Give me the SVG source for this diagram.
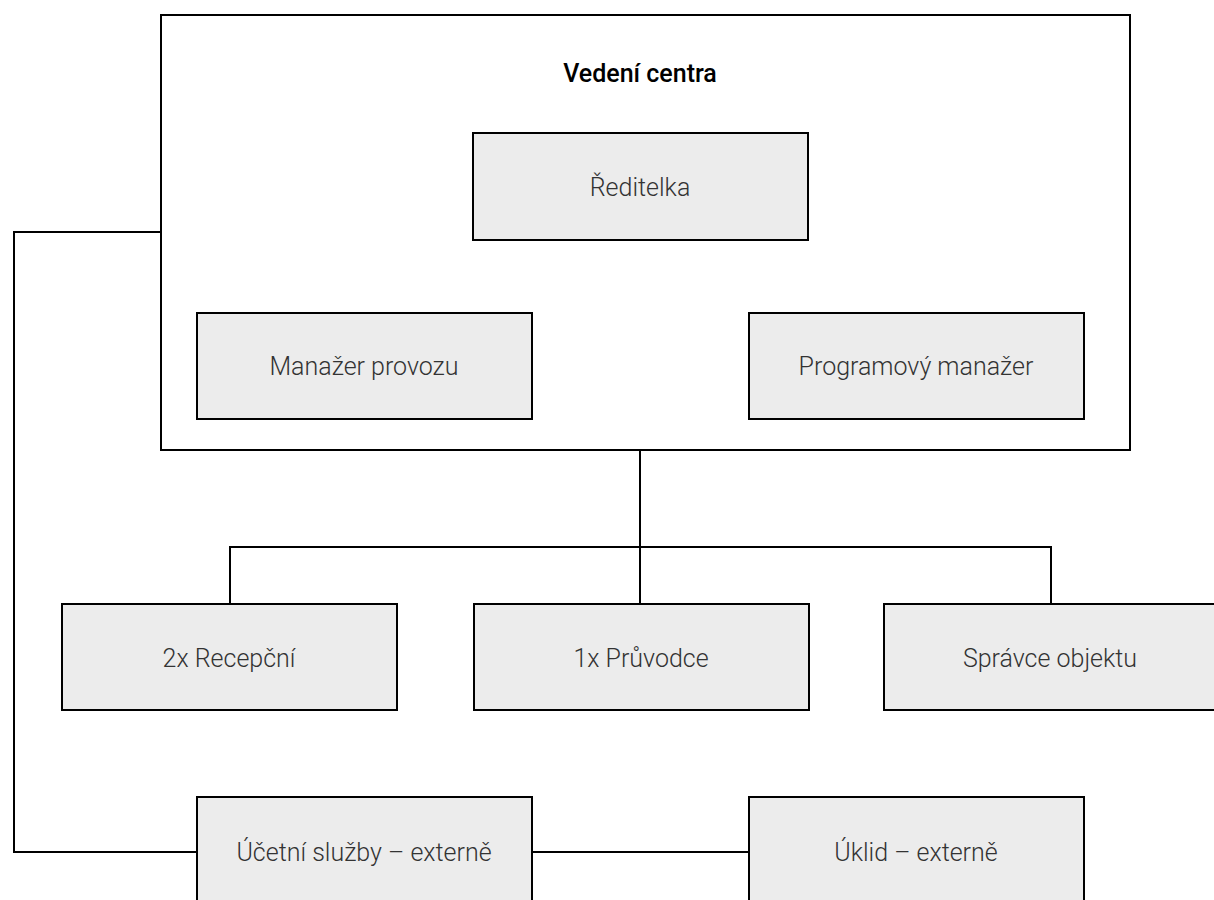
<svg xmlns="http://www.w3.org/2000/svg" width="1214" height="900" viewBox="0 0 1214 900">
<style>
.box{fill:#ececec;stroke:#000;stroke-width:2}
.frame{fill:#fff;stroke:#000;stroke-width:2}
.lbl{font-family:Roboto,"Liberation Sans",sans-serif;font-weight:300;font-size:25px;fill:#333;text-anchor:middle}
.title{font-family:Roboto,"Liberation Sans",sans-serif;font-weight:500;font-size:25px;fill:#000;text-anchor:middle}
.con{fill:none;stroke:#000;stroke-width:2}
</style>
<rect width="1214" height="900" fill="#fff"/>
<g id="vedeni">
<rect class="frame" x="161" y="15" width="969" height="435"/>
<text class="title" x="640" y="82">Vedení centra</text>
</g>
<g id="connectors">
<path class="con" d="M640 450 V603"/>
<path class="con" d="M230 603 V547 H1051 V603"/>
<path class="con" d="M161 232 H14 V852 H197"/>
<path class="con" d="M532 852 H749"/>
</g>
<g id="reditelka"><rect class="box" x="473" y="133" width="335" height="107"/><text class="lbl" x="640" y="196">Ředitelka</text></g>
<g id="manazer-provozu"><rect class="box" x="197" y="313" width="335" height="106"/><text class="lbl" x="364" y="375">Manažer provozu</text></g>
<g id="programovy-manazer"><rect class="box" x="749" y="313" width="335" height="106"/><text class="lbl" x="916" y="375">Programový manažer</text></g>
<g id="recepcni"><rect class="box" x="62" y="604" width="335" height="106"/><text class="lbl" x="229" y="667">2x Recepční</text></g>
<g id="pruvodce"><rect class="box" x="474" y="604" width="335" height="106"/><text class="lbl" x="641" y="667">1x Průvodce</text></g>
<g id="spravce"><rect class="box" x="884" y="604" width="335" height="106"/><text class="lbl" x="1050" y="667">Správce objektu</text></g>
<g id="ucetni"><rect class="box" x="197" y="797" width="335" height="120"/><text class="lbl" x="364" y="861">Účetní služby – externě</text></g>
<g id="uklid"><rect class="box" x="749" y="797" width="335" height="120"/><text class="lbl" x="916" y="861">Úklid – externě</text></g>
</svg>
